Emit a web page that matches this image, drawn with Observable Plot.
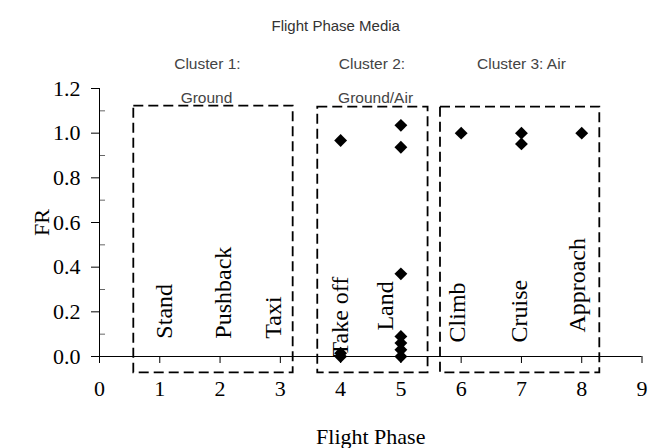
<!DOCTYPE html>
<html>
<head>
<meta charset="utf-8">
<script src="https://cdn.jsdelivr.net/npm/d3@7"></script>
<script src="https://cdn.jsdelivr.net/npm/@observablehq/plot@0.6"></script>
<style>
  html, body { margin: 0; padding: 0; background: #fff; }
</style>
</head>
<body>
<div id="chart"></div>
<script>
// ---- data ----
const pointPhase = [4, 4, 4, 5, 5, 5, 5, 5, 5, 5, 6, 7, 7, 8];
const pointFR    = [0.967, 0.0, 0.015, 1.035, 0.937, 0.37, 0.09, 0.06, 0.03, 0.0, 1.0, 1.0, 0.952, 1.0];

const phaseNames  = ["Stand", "Pushback", "Taxi", "Take off", "Land", "Climb", "Cruise", "Approach"];
const phaseLabelX = [1.08, 2.06, 2.877, 3.99, 4.735, 5.93, 6.97, 7.92];
const phaseLabelY = [0.08, 0.08, 0.08, 0.0, 0.116, 0.063, 0.063, 0.107];

const clusterNames  = ["Cluster 1:", "Cluster 2:", "Cluster 3: Air"];
const clusterLabelX = [1.79, 4.52, 7.0];
const clusterSubs   = ["Ground", "Ground/Air"];
const clusterSubX   = [1.775, 4.58];

const boxX1 = [0.569, 3.621, 5.657];
const boxX2 = [3.213, 5.451, 8.30];
const boxY1 = [-0.073, -0.073, -0.073];
const boxY2 = [1.121, 1.117, 1.117];

const xTicks = [0, 1, 2, 3, 4, 5, 6, 7, 8, 9];
const yTicks = [0, 0.2, 0.4, 0.6, 0.8, 1.0, 1.2];
const yMinor = [0.1, 0.3, 0.5, 0.7, 0.9, 1.1];

const points = pointPhase.map((p, i) => ({phase: p, fr: pointFR[i]}));
const phaseLabels = phaseNames.map((n, i) => ({name: n, x: phaseLabelX[i], y: phaseLabelY[i]}));
const boxes = boxX1.map((x1, i) => ({x1, x2: boxX2[i], y1: boxY1[i], y2: boxY2[i]}));

const serif = "'Liberation Serif', 'Times New Roman', serif";
const sans = "'Liberation Sans', Arial, sans-serif";

const chart = Plot.plot({
  width: 650,
  height: 448,
  marginLeft: 99,
  marginRight: 8.5,
  marginTop: 88,
  marginBottom: 92,
  style: {fontFamily: serif, fontSize: "22px", color: "black", background: "white"},
  x: {domain: [0, 9]},
  y: {domain: [0, 1.2]},
  marks: [
    // axes
    Plot.axisX({ticks: xTicks, tickSize: 7, tickPadding: 17, label: null, tickFormat: d3.format("d"), fontSize: 22, fontFamily: serif}),
    Plot.axisY({ticks: yTicks, tickSize: 8, tickPadding: 11, label: null, tickFormat: d3.format(".1f"), fontSize: 22, fontFamily: serif}),
    Plot.ruleY(yMinor, {y: d => d, x1: 0, x2: 0.1, stroke: "#666"}),
    Plot.ruleY([0], {stroke: "black"}),
    Plot.ruleX([0], {stroke: "black"}),
    // cluster boxes
    Plot.rect(boxes, {x1: "x1", x2: "x2", y1: "y1", y2: "y2", fill: "none", stroke: "black", strokeWidth: 1.8, strokeDasharray: "10,5"}),
    // phase labels
    Plot.text(phaseLabels, {x: "x", y: "y", text: "name", rotate: -90, textAnchor: "start", lineAnchor: "middle", fontFamily: serif, fontSize: 24, fill: "black"}),
    // points
    Plot.dot(points, {x: "phase", y: "fr", symbol: "diamond2", r: 5.8, fill: "black", stroke: "none"}),
    // cluster labels
    Plot.text(clusterNames, {x: clusterLabelX, text: d => d, frameAnchor: "top", lineAnchor: "middle", dy: -24, fontFamily: sans, fontSize: 15.5, fill: "#444"}),
    Plot.text(clusterSubs, {x: clusterSubX, text: d => d, frameAnchor: "top", lineAnchor: "middle", dy: 10, fontFamily: sans, fontSize: 15.5, fill: "#444"}),
    // titles
    Plot.text(["Flight Phase Media"], {frameAnchor: "top", lineAnchor: "middle", dx: -35, dy: -62, fontFamily: sans, fontSize: 15, fill: "#333"}),
    Plot.text(["FR"], {frameAnchor: "left", textAnchor: "middle", lineAnchor: "middle", rotate: -90, dx: -58, fontFamily: serif, fontSize: 22, fill: "black"}),
    Plot.text(["Flight Phase"], {frameAnchor: "bottom", lineAnchor: "middle", dy: 80, fontFamily: serif, fontSize: 22, fill: "black"})
  ]
});
document.getElementById("chart").appendChild(chart);
</script>
</body>
</html>
